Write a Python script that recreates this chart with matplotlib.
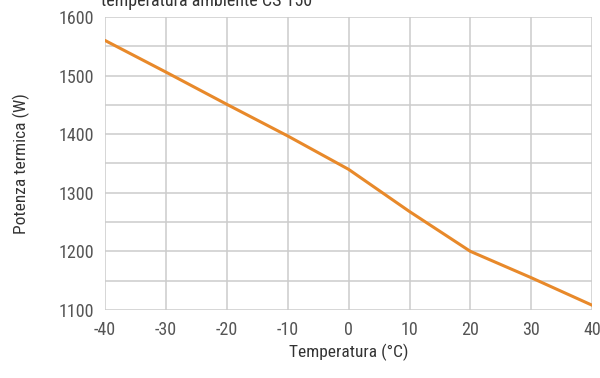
import matplotlib
matplotlib.use("Agg")
import matplotlib.pyplot as plt
from matplotlib import font_manager

# Data
temperature = [-40, -30, -20, -10, 0, 10, 20, 30, 40]
power = [1560, 1506, 1451, 1397, 1340, 1268, 1200, 1155, 1108]
x_ticks = [-40, -30, -20, -10, 0, 10, 20, 30, 40]
y_ticks = [1100, 1200, 1300, 1400, 1500, 1600]

plt.rcParams["axes.unicode_minus"] = False

names = {f.name for f in font_manager.fontManager.ttflist}
label_font = "Roboto Condensed" if "Roboto Condensed" in names else "Roboto"

fig = plt.figure(figsize=(6, 3.78), dpi=100)
ax = fig.add_axes([0.175, 0.18, 0.812, 0.775])

ax.plot(temperature, power, color="#e8892a", linewidth=2.2, solid_capstyle="round")

ax.set_xlim(-40, 40)
ax.set_ylim(1100, 1600)
ax.set_xticks(x_ticks)
ax.set_yticks(y_ticks)
ax.set_yticks(range(1150, 1600, 100), minor=True)
ax.grid(True, which="both", color="#cccccc", linewidth=1.1)
ax.set_axisbelow(True)
for s in ax.spines.values():
    s.set_visible(False)
ax.tick_params(which="both", length=0, pad=8, labelsize=13, labelcolor="#555555")
for lab in ax.get_xticklabels() + ax.get_yticklabels():
    lab.set_fontfamily(label_font)

ax.set_xlabel("Temperatura (°C)", fontsize=12.5, color="#333333", labelpad=3, fontfamily=label_font)
ax.set_ylabel("Potenza termica (W)", fontsize=12.5, color="#333333", labelpad=20, fontfamily=label_font)

fig.text(0.168, 0.985, "temperatura ambiente CS 150", fontsize=13, color="#333333",
         va="baseline", ha="left", fontfamily=label_font)

fig.savefig("out.png", dpi=100)
